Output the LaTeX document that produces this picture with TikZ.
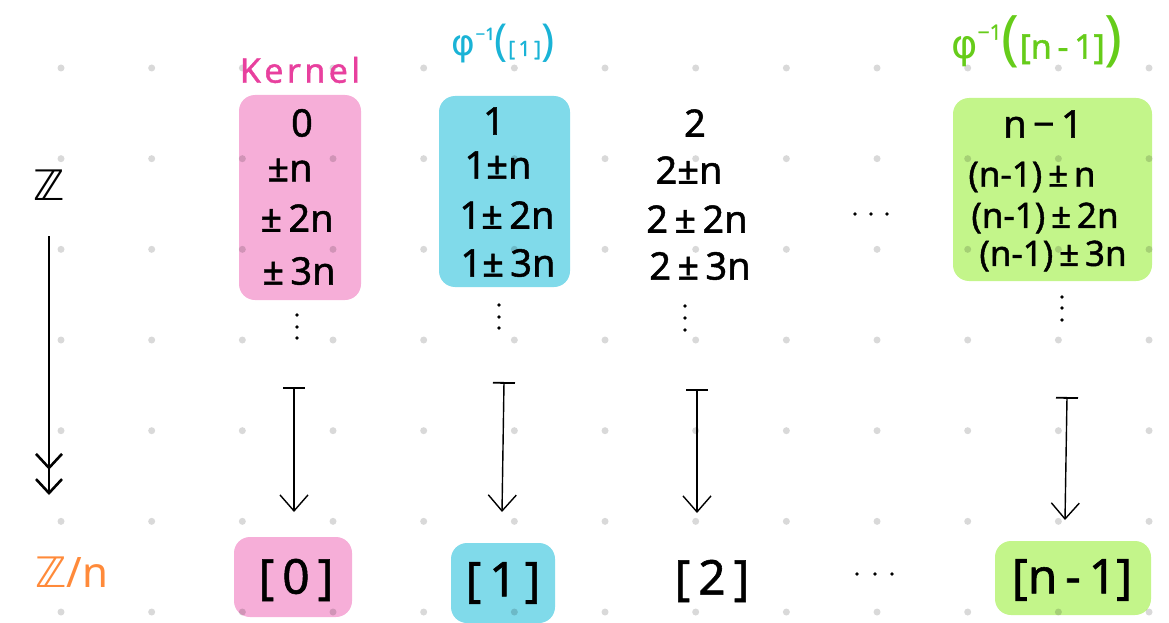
\documentclass[tikz,border=0pt]{standalone}
\usepackage{fontspec}
\setmainfont{Noto Sans}
\newfontfamily\symfont{DejaVu Sans}
\usetikzlibrary{arrows.meta}

\definecolor{kerpink}{HTML}{E8409E}
\definecolor{boxpink}{HTML}{F6AED8}
\definecolor{lblblue}{HTML}{1AB3D6}
\definecolor{boxblue}{HTML}{80DAEA}
\definecolor{lblgreen}{HTML}{66CC1A}
\definecolor{boxgreen}{HTML}{C3F58A}
\definecolor{quotorange}{HTML}{FF8A3A}

\newcommand{\fs}[1]{\fontsize{#1}{#1}\selectfont}
\newcommand{\heavy}{\addfontfeature{FakeBold=1.2}}

\begin{document}
\begin{tikzpicture}[x=1pt,y=-1pt,
  entry/.style={inner sep=0pt,font=\fs{38}\heavy},
  wentry/.style={inner sep=0pt,font=\fs{35}\heavy},
  cls/.style={inner sep=0pt,font=\fs{48}\heavy},
  lbl/.style={inner sep=0pt},
  hl/.style={rounded corners=16pt},
  mapsto/.style={line width=1.4pt,
    {Bar[width=22pt,line width=1.8pt]}-{Straight Barb[length=16pt,width=28pt,line width=1.4pt]}},
  surj/.style={line width=2.6pt,
    -{Straight Barb[length=14pt,width=26pt,sep=8pt]Straight Barb[length=14pt,width=26pt]}},
  gdot/.style={fill=black,opacity=0.15},
  edot/.style={fill=black}
]
\useasboundingbox (0,0) rectangle (1169,623);

% highlight patches
\fill[boxpink,hl]  (239,95)  rectangle (361,300);
\fill[boxblue,hl]  (439,96)  rectangle (570,287);
\fill[boxgreen,hl] (953,98)  rectangle (1152,281);
\fill[boxpink,hl]  (234,537) rectangle (352,617);
\fill[boxblue,hl]  (451,543) rectangle (555,623);
\fill[boxgreen,hl] (995,541) rectangle (1151,615);

% dotted paper
\foreach \i in {0,...,12}
  \foreach \j in {0,...,6}
    \fill[gdot] ({61+90.67*\i},{68+90.67*\j}) circle (3.5pt);

% row labels
\node[lbl,font=\symfont\fs{42}] (Z) at (49,185) {ℤ};
\node[lbl,font=\fs{42},text=quotorange] (Zn) at (72,572) {{\symfont ℤ}/n};
\coordinate (zs) at (49,236);
\coordinate (ze) at (49,495);
\draw[surj] (zs) -- (ze);

% column headings
\node[lbl,font=\fs{34}\heavy,text=kerpink] (ker) at (300,70)
  {\addfontfeature{LetterSpace=10}Kernel};
\node[lbl,text=lblblue] (pre1) at (503,44)
  {{\symfont\fs{36}φ}\raisebox{16pt}{\fs{17}\heavy −1}{\fs{44}(}{\fs{21}\heavy[\,1\,]}{\fs{44})}};
\node[lbl,text=lblgreen] (pren) at (1037,42)
  {{\symfont\fs{40}φ}\raisebox{19pt}{\fs{21}\heavy −1}{\fs{60}(}{\fs{34}\heavy[n\,-\,1]}{\fs{60})}};

% column 0
\node[entry] (a0) at (302,123) {0};
\node[entry] (a1) at (290,170) {±n};
\node[entry] (a2) at (297,218) {±\,2n};
\node[entry] (a3) at (299,271) {±\,3n};
% column 1
\node[entry] (b0) at (494,121) {1};
\node[entry] (b1) at (498,165) {1±n};
\node[entry] (b2) at (507,215) {1±\,2n};
\node[entry] (b3) at (508,263) {1±\,3n};
% column 2
\node[entry] (c0) at (695,123) {2};
\node[entry] (c1) at (689,170) {2±n};
\node[entry] (c2) at (697,219) {2\,±\,2n};
\node[entry] (c3) at (700,266) {2\,±\,3n};
% column n-1
\node[entry] (d0) at (1043,124) {n\,−\,1};
\node[wentry] (d1) at (1032,177) {(n-1)\,±\,n};
\node[wentry] (d2) at (1045,218) {(n-1)\,±\,2n};
\node[wentry] (d3) at (1053,256) {(n-1)\,±\,3n};

% vertical ellipses
\foreach \y in {315,327,338} \fill[edot] (297,\y) circle (1.9pt);
\foreach \y in {305,317,328} \fill[edot] (499,\y) circle (1.9pt);
\foreach \y in {306,318,330} \fill[edot] (685,\y) circle (1.9pt);
\foreach \y in {297,308,320} \fill[edot] (1062,\y) circle (1.9pt);
% horizontal ellipses
\foreach \x in {855,871,887} \fill[edot] (\x,214) circle (1.9pt);
\foreach \x in {857,875,892} \fill[edot] (\x,574) circle (1.9pt);

% residue classes
\node[cls] (k0) at (296,580) {[\,0\,]};
\node[cls] (k1) at (503,583) {[\,1\,]};
\node[cls] (k2) at (712,581) {[\,2\,]};
\node[cls] (kn) at (1072,580) {[n\,-\,1]};

% maps-to arrows
\coordinate (m0s) at (294,387);  \coordinate (m0e) at (294,512);
\coordinate (m1s) at (504,382);  \coordinate (m1e) at (502,512);
\coordinate (m2s) at (697,389);  \coordinate (m2e) at (697,513);
\coordinate (m3s) at (1067,397); \coordinate (m3e) at (1065,520);
\draw[mapsto] (m0s) -- (m0e);
\draw[mapsto] (m1s) -- (m1e);
\draw[mapsto] (m2s) -- (m2e);
\draw[mapsto] (m3s) -- (m3e);
\end{tikzpicture}
\end{document}
